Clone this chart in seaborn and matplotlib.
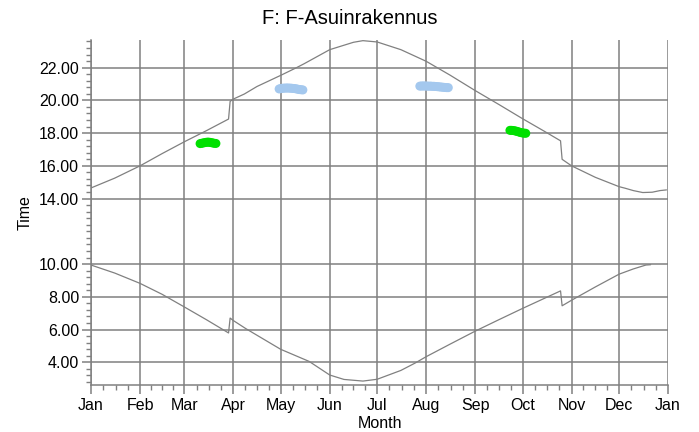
import matplotlib
matplotlib.use("Agg")
import matplotlib.pyplot as plt
import pandas as pd
import seaborn as sns

# month starts as day of year
months = ["Jan", "Feb", "Mar", "Apr", "May", "Jun", "Jul",
          "Aug", "Sep", "Oct", "Nov", "Dec", "Jan"]
month_start = [0, 31, 59, 90, 120, 151, 181, 212, 243, 273, 304, 334, 365]

# sunset (upper curve)
sunset_day = [0, 15, 31, 45, 59, 73, 87, 88, 90, 97, 105, 120, 130, 135, 151,
              166, 172, 181, 196, 212, 227, 243, 258, 273, 287, 297, 298, 304,
              319, 334, 338, 343, 349, 355, 360, 364]
sunset_time = [14.65, 15.25, 16.0, 16.75, 17.47, 18.15, 18.86, 19.94, 20.08,
               20.39, 20.85, 21.53, 22.0, 22.25, 23.1, 23.55, 23.65, 23.57,
               23.1, 22.39, 21.55, 20.6, 19.75, 18.88, 18.1, 17.53, 16.4, 16.0,
               15.3, 14.73, 14.63, 14.49, 14.37, 14.39, 14.49, 14.53]

# sunrise (lower curve)
sunrise_day = [0, 15, 31, 45, 59, 73, 87, 88, 90, 98, 120, 138, 151, 160, 172,
               181, 196, 205, 212, 227, 243, 258, 273, 297, 298, 304, 319, 334,
               343, 351, 354]
sunrise_time = [9.94, 9.45, 8.82, 8.15, 7.38, 6.6, 5.79, 6.7, 6.55, 6.05, 4.79,
                4.05, 3.22, 2.95, 2.85, 2.96, 3.5, 3.95, 4.34, 5.1, 5.9, 6.6,
                7.29, 8.36, 7.45, 7.79, 8.6, 9.38, 9.7, 9.94, 9.96]

# measured points
green_day = [69, 70, 71, 72, 73, 74, 75, 76, 77, 78, 79,
             265, 266, 267, 268, 269, 270, 271, 272, 273, 274, 275]
green_time = [17.36, 17.38, 17.40, 17.42, 17.44, 17.45, 17.44, 17.42, 17.40, 17.38, 17.37,
              18.17, 18.17, 18.16, 18.14, 18.12, 18.09, 18.06, 18.03, 18.01, 18.0, 17.99]
blue_day = [119, 120, 121, 122, 123, 124, 125, 126, 127, 128, 129, 130, 131, 132, 133, 134,
            208, 209, 210, 211, 212, 213, 214, 215, 216, 217, 218, 219, 220, 221, 222,
            223, 224, 225, 226]
blue_time = [20.70, 20.72, 20.74, 20.75, 20.75, 20.76, 20.75, 20.75, 20.74, 20.73,
             20.72, 20.70, 20.68, 20.66, 20.65, 20.64,
             20.87, 20.88, 20.88, 20.88, 20.88, 20.87, 20.87, 20.87, 20.86, 20.86,
             20.85, 20.84, 20.83, 20.82, 20.81, 20.80, 20.79, 20.78, 20.78]

sns.set_style("white")
plt.rcParams['font.family'] = ['Liberation Sans', 'DejaVu Sans']

fig = plt.figure(figsize=(6.99, 4.32), dpi=100)
ax = fig.add_axes([0.1302, 0.1088, 0.8255, 0.7986])

grey = "#808080"

sns.lineplot(x=sunset_day, y=sunset_time, ax=ax, color=grey, linewidth=0.9,
             sort=False, estimator=None)
sns.lineplot(x=sunrise_day, y=sunrise_time, ax=ax, color=grey, linewidth=0.9,
             sort=False, estimator=None)

pts = pd.DataFrame({
    "day": green_day + blue_day,
    "time": green_time + blue_time,
    "kind": ["green"] * len(green_day) + ["blue"] * len(blue_day),
})
sns.scatterplot(data=pts, x="day", y="time", hue="kind",
                palette={"green": "#00E000", "blue": "#A4C8EE"},
                s=42, linewidth=0, legend=False, ax=ax, zorder=3)

ax.set_xlim(0, 365)
ax.set_ylim(2.61, 23.69)

ax.set_xticks(month_start)
ax.set_xticklabels(months)
minor_x = []
for a, b in zip(month_start[:-1], month_start[1:]):
    minor_x += [a + (b - a) * k / 4 for k in (1, 2, 3)]
ax.set_xticks(minor_x, minor=True)

y_major = [4, 6, 8, 10, 14, 16, 18, 20, 22]
ax.set_yticks(y_major)
ax.set_yticklabels([f"{v:.2f}" for v in y_major])
ax.set_yticks([2.8 + 0.4 * i for i in range(53)], minor=True)

ax.grid(True, which="major", color=grey, linewidth=1.1)
ax.set_axisbelow(True)

for side in ["top", "right"]:
    ax.spines[side].set_visible(False)
for side in ["left", "bottom"]:
    ax.spines[side].set_color(grey)
    ax.spines[side].set_linewidth(1.1)

ax.tick_params(which="both", bottom=True, left=True, direction="out")
ax.tick_params(which="major", length=6.5, width=1.1, color=grey,
               labelsize=11.5, labelcolor="black", pad=2)
ax.tick_params(which="minor", length=3.6, width=1.0, color=grey)
ax.tick_params(axis="x", which="major", pad=3)

ax.set_xlabel("Month", fontsize=11.5, labelpad=2, color="black")
ax.set_ylabel("Time", fontsize=11.5, labelpad=5, color="black")

fig.text(0.5, 1 - 19 / 432, "F: F-Asuinrakennus", ha="center", va="center",
         fontsize=14.5, color="black")

fig.savefig("out.png", dpi=100)
